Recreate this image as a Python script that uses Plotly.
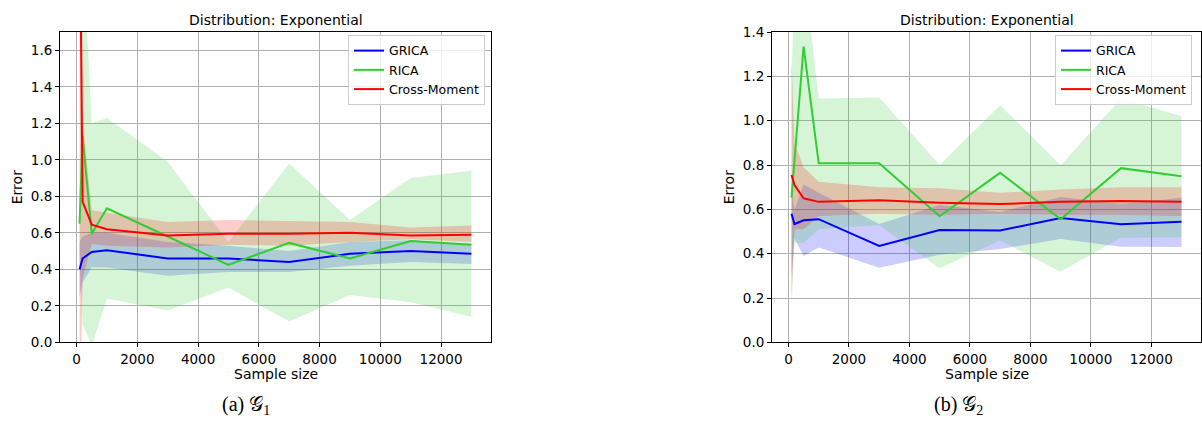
import plotly.graph_objects as go

# ---------------- data ----------------
sample_sizes = [100, 200, 500, 1000, 3000, 5000, 7000, 9000, 11000, 13000]
x_tick_vals = [0, 2000, 4000, 6000, 8000, 10000, 12000]
x_tick_text = ["0", "2000", "4000", "6000", "8000", "10000", "12000"]

# (a) G1
grica1 = [0.40, 0.46, 0.495, 0.505, 0.46, 0.46, 0.44, 0.485, 0.50, 0.485]
grica1_lo = [0.25, 0.33, 0.41, 0.41, 0.365, 0.385, 0.385, 0.42, 0.44, 0.43]
grica1_hi = [0.55, 0.58, 0.60, 0.60, 0.55, 0.53, 0.50, 0.55, 0.56, 0.54]
rica1 = [0.65, 1.13, 0.595, 0.735, 0.58, 0.425, 0.545, 0.46, 0.555, 0.535]
rica1_lo = [0.45, 0.10, -0.02, 0.24, 0.175, 0.30, 0.115, 0.26, 0.22, 0.14]
rica1_hi = [0.85, 2.2, 1.20, 1.23, 0.99, 0.55, 0.98, 0.67, 0.90, 0.94]
cm1 = [2.5, 0.77, 0.645, 0.62, 0.585, 0.595, 0.595, 0.60, 0.585, 0.59]
cm1_lo = [-0.6, 0.35, 0.54, 0.53, 0.52, 0.535, 0.53, 0.55, 0.565, 0.55]
cm1_hi = [5.5, 1.2, 0.725, 0.71, 0.66, 0.67, 0.665, 0.66, 0.63, 0.64]

# (b) G2
grica2 = [0.58, 0.534, 0.551, 0.556, 0.435, 0.507, 0.505, 0.561, 0.533, 0.544]
grica2_lo = [0.30, 0.47, 0.39, 0.428, 0.337, 0.395, 0.421, 0.467, 0.432, 0.43]
grica2_hi = [0.70, 0.60, 0.714, 0.675, 0.534, 0.62, 0.588, 0.656, 0.624, 0.653]
rica2 = [0.653, 0.82, 1.335, 0.808, 0.808, 0.569, 0.765, 0.556, 0.786, 0.75]
rica2_lo = [0.15, 0.45, 0.45, 0.51, 0.53, 0.334, 0.46, 0.319, 0.472, 0.474]
rica2_hi = [1.2, 1.6, 1.7, 1.10, 1.105, 0.80, 1.07, 0.798, 1.10, 1.02]
cm2 = [0.755, 0.71, 0.65, 0.634, 0.641, 0.63, 0.624, 0.634, 0.638, 0.634]
cm2_lo = [0.2, 0.51, 0.51, 0.57, 0.58, 0.575, 0.58, 0.575, 0.575, 0.57]
cm2_hi = [1.29, 0.90, 0.79, 0.725, 0.70, 0.695, 0.675, 0.69, 0.70, 0.70]

series_names = ["GRICA", "RICA", "Cross-Moment"]
line_colors = ["#0000ff", "#32cd32", "#ff0000"]
fill_colors = ["rgba(0,0,255,0.2)", "rgba(50,205,50,0.2)", "rgba(255,0,0,0.2)"]

panels = [
    dict(xa="x", ya="y", legend="legend",
         means=[grica1, rica1, cm1], los=[grica1_lo, rica1_lo, cm1_lo], his=[grica1_hi, rica1_hi, cm1_hi]),
    dict(xa="x2", ya="y2", legend="legend2",
         means=[grica2, rica2, cm2], los=[grica2_lo, rica2_lo, cm2_lo], his=[grica2_hi, rica2_hi, cm2_hi]),
]

W, H = 1202, 440
FONT = "DejaVu Sans"

fig = go.Figure()
for p in panels:
    for i in range(3):
        fig.add_trace(go.Scatter(x=sample_sizes, y=p["los"][i], mode="lines", line=dict(width=0),
                                 showlegend=False, hoverinfo="skip", xaxis=p["xa"], yaxis=p["ya"]))
        fig.add_trace(go.Scatter(x=sample_sizes, y=p["his"][i], mode="lines", line=dict(width=0),
                                 fill="tonexty", fillcolor=fill_colors[i],
                                 showlegend=False, hoverinfo="skip", xaxis=p["xa"], yaxis=p["ya"]))
    for i in range(3):
        fig.add_trace(go.Scatter(x=sample_sizes, y=p["means"][i], mode="lines", name=series_names[i],
                                 line=dict(color=line_colors[i], width=2),
                                 legend=p["legend"], xaxis=p["xa"], yaxis=p["ya"]))

def px_x(v):
    return v / W

def px_y(v):
    return 1 - v / H

left_dom = [px_x(60), px_x(491)]
right_dom = [px_x(772), px_x(1201)]
y_dom = [px_y(347), px_y(25)]

axis_common = dict(showline=True, mirror=True, linecolor="black", linewidth=1,
                   ticks="outside", ticklen=4, tickcolor="black",
                   showgrid=True, gridcolor="#b0b0b0", gridwidth=1, zeroline=False,
                   tickfont=dict(family=FONT, size=13.5, color="#000"))

legend_common = dict(xanchor="right", yanchor="top", traceorder="normal",
                     bgcolor="rgba(255,255,255,0.8)", bordercolor="#cccccc", borderwidth=1,
                     font=dict(family=FONT, size=12.5), tracegroupgap=0, itemwidth=30)

fig.update_layout(
    width=W, height=H, margin=dict(l=0, r=0, t=0, b=0),
    paper_bgcolor="white", plot_bgcolor="white",
    font=dict(family=FONT, size=13, color="#000"),
    xaxis=dict(domain=left_dom, anchor="y", range=[-545, 13645], tickvals=x_tick_vals, ticktext=x_tick_text, **axis_common),
    yaxis=dict(domain=y_dom, anchor="x", range=[0, 1.7], dtick=0.2, tickformat=".1f", **axis_common),
    xaxis2=dict(domain=right_dom, anchor="y2", range=[-545, 13645], tickvals=x_tick_vals, ticktext=x_tick_text, **axis_common),
    yaxis2=dict(domain=y_dom, anchor="x2", range=[0, 1.4], dtick=0.2, tickformat=".1f", **axis_common),
    legend=dict(x=px_x(485), y=px_y(28), **legend_common),
    legend2=dict(x=px_x(1192), y=px_y(28), **legend_common),
)

annos = []
for cx in [275.5, 986.5]:
    annos.append(dict(text="Distribution: Exponential", x=px_x(cx), y=px_y(12), xref="paper", yref="paper",
                      showarrow=False, xanchor="center", yanchor="middle", font=dict(family=FONT, size=14)))
    annos.append(dict(text="Sample size", x=px_x(cx), y=px_y(380), xref="paper", yref="paper",
                      showarrow=False, xanchor="center", yanchor="middle", font=dict(family=FONT, size=14)))
for ex in [17, 729]:
    annos.append(dict(text="Error", x=px_x(ex), y=px_y(186), xref="paper", yref="paper", textangle=-90,
                      showarrow=False, xanchor="center", yanchor="middle", font=dict(family=FONT, size=14)))
annos.append(dict(text="(a) 𝒢<sub>1</sub>", x=px_x(246), y=px_y(412), xref="paper", yref="paper",
                  showarrow=False, xanchor="center", yanchor="middle",
                  font=dict(family="Liberation Serif", size=20)))
annos.append(dict(text="(b) 𝒢<sub>2</sub>", x=px_x(958), y=px_y(412), xref="paper", yref="paper",
                  showarrow=False, xanchor="center", yanchor="middle",
                  font=dict(family="Liberation Serif", size=20)))
fig.update_layout(annotations=annos)

fig.write_html("out.html")
